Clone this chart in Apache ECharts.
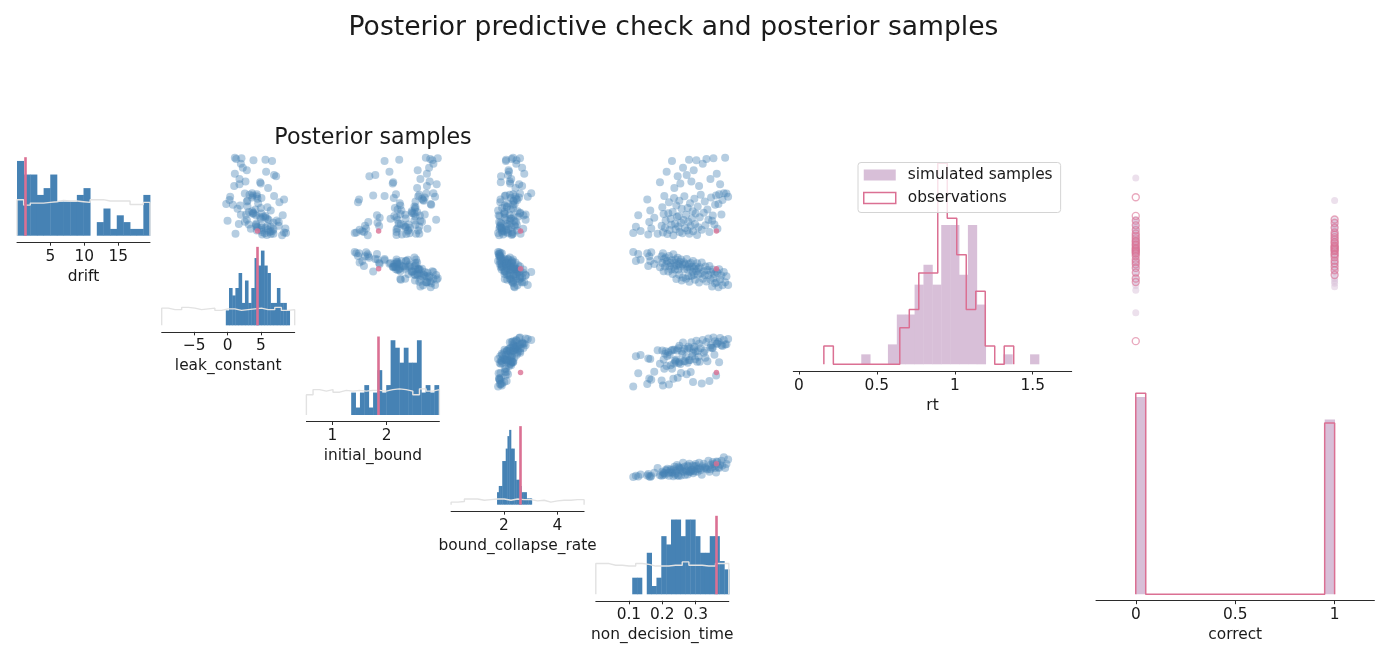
<!DOCTYPE html>
<html><head><meta charset="utf-8">
<script src="https://cdn.jsdelivr.net/npm/echarts@6/dist/echarts.min.js"></script>
<style>html,body{margin:0;padding:0;background:#fff}#c{width:1381px;height:651px}</style>
</head><body><div id="c"></div>
<script>
// ================= DATA =================
const paramNames = ['drift','leak_constant','initial_bound','bound_collapse_rate','non_decision_time'];
const trueValues = [1.3, 4.5, 1.85, 2.62, 0.362];
const axisLimits = [[0.1,19.65],[-9.9,10.1],[0.52,2.97],[0.02,5.0],[0.001,0.399]];
const tickValues = [[5,10,15],[-5,0,5],[1,2],[2,4],[0.1,0.2,0.3]];

// posterior histograms (counts per bin) : first bin edge, bin width
const postBinStart = [0.1,-0.26,1.345,1.74,0.110];
const postBinWidth = [0.9775,0.48,0.0807,0.065,0.0145];
const driftCounts = [11,9,9,6,7,9,5,5,5,6,7,0,2,4,1,3,2,1,1,6];
const leakCounts  = [2,5,4,5,7,3,6,3,5,9,8,10,8,7,3,3,5,3,3,2];
const boundCounts = [3,1,3,4,1,3,6,3,4,10,9,7,9,7,7,10,3,4,3,4];
const collapseCounts = [2,3,3,7,7,9,11,12,9,9,7,4,4,3,2,2,2,1,1,1];
const ndtCounts   = [2,2,0,5,1,2,7,6,9,9,7,9,9,7,5,5,7,7,4,3];

// prior outline levels (same units as posterior counts), 20 bins across axis range
const driftPrior = [5.3,4.5,4.8,4.8,4.9,5.0,5.2,5.1,5.1,5.0,4.9,5.3,5.3,5.1,5.1,5.1,5.1,4.6,4.6,4.9];
const leakPrior  = [2.3,2.1,2.1,2.4,2.3,2.1,2.2,2.3,2.0,2.2,2.2,2.0,2.1,2.2,2.3,2.1,2.1,2.4,2.0,2.1];
const boundPrior = [2.7,3.4,3.2,3.4,3.05,3.3,3.2,3.3,3.2,3.3,3.3,3.2,3.4,3.5,3.4,3.2,2.7,3.5,3.2,3.4];
const collapsePrior = [0.4,0.5,0.9,0.9,0.7,0.8,0.9,0.9,0.7,0.9,0.8,0.8,0.6,0.7,0.4,0.6,0.7,0.7,0.8,0.8];
const ndtPrior   = [3.7,3.7,3.5,3.5,3.4,3.4,3.7,3.6,3.4,3.4,3.4,3.5,3.5,3.9,3.5,3.5,3.4,3.4,3.7,3.7];

// posterior samples (one entry per sample)
const drift = [0.8,2.3,5.2,1.3,9.1,0.4,3.5,6.4,1.9,4.6, 0.6,13.4,2.6,7.2,0.9,5.5,10.0,2.1,3.9,16.0,
 0.5,5.7,8.4,1.5,4.3,2.8,18.7,6.0,0.2,9.5, 12.0,3.1,1.7,7.6,4.8,14.9,2.4,5.0,8.8,1.05,
 13.1,3.3,6.8,0.7,17.0,4.0,9.9,2.0,5.3,15.2, 1.4,7.0,3.6,19.0,0.6,8.2,2.5,13.6,4.4,6.2,
 1.2,16.4,9.3,3.0,5.6,18.9,0.3,7.4,2.2,12.5, 4.7,10.3,1.6,18.0,5.8,8.6,2.7,19.2,6.6,4.1,
 1.0,14.2,9.6,3.8,5.1,19.4,2.9,7.8,10.1,15.5, 1.8,8.0,10.4,12.9,5.4,9.0,10.7,19.5,10.6,9.8];
const leakConstant = [8.8,6.5,8.3,6.8,8.5,5.2,7.7,6.5,8.7,5.7, 6.9,4.9,7.7,6.0,8.5,3.9,7.0,5.1,7.4,5.8,
 6.5,3.8,7.8,5.1,6.0,4.3,6.7,3.2,8.2,5.1, 6.1,4.3,6.9,1.9,5.4,7.3,4.3,5.7,3.0,6.3,
 5.0,6.9,1.5,5.6,2.3,6.2,4.4,5.7,2.0,7.0, 4.4,5.0,2.6,5.7,1.2,4.6,6.0,2.7,5.0,3.7,
 6.5,2.9,4.5,1.7,5.1,3.9,5.9,3.0,4.5,1.0, 4.9,3.3,6.1,2.0,3.9,2.9,5.1,1.3,4.2,2.9,
 5.2,1.8,3.7,0.0,4.3,2.1,3.2,0.8,3.8,1.1, 3.5,-0.2,4.4,1.8,2.8,0.3,3.7,1.1,2.6,0.4];
const initialBound = [1.41,2.35,1.82,2.39,1.49,2.28,1.66,2.27,1.62,1.87, 2.54,2.12,1.60,2.53,1.44,2.25,1.96,2.43,2.51,2.05,
 2.36,2.48,1.47,2.40,2.07,2.53,1.96,2.56,1.65,2.13, 2.56,2.22,2.18,2.25,2.53,1.68,2.60,2.14,2.68,2.18,
 2.11,1.83,2.52,2.42,2.78,2.20,2.58,2.20,2.34,1.79, 2.58,2.15,2.65,2.23,2.60,2.24,1.86,2.79,2.35,2.46,
 1.55,2.57,2.65,2.26,2.51,2.84,2.18,2.51,2.34,2.74, 2.18,2.60,1.50,2.86,2.46,2.53,2.31,2.80,2.20,2.91,
 1.58,2.62,2.70,2.62,2.61,2.94,2.40,2.82,1.75,2.74, 2.75,2.81,2.17,2.92,2.70,2.67,2.86,2.72,2.73,2.89];
const boundCollapseRate = [1.78,1.86,1.80,1.94,1.87,1.97,1.82,1.78,1.83,2.04, 2.34,1.88,1.85,2.11,1.92,2.03,2.03,1.92,2.22,2.19,
 2.30,2.01,1.86,2.08,2.27,2.20,2.07,2.02,1.82,2.26, 2.43,1.91,2.15,2.03,2.53,1.89,2.42,1.84,2.36,2.31,
 2.23,1.87,2.34,2.15,2.68,2.09,2.43,1.90,2.22,2.15, 2.50,1.93,2.44,2.08,2.62,2.14,2.10,2.22,2.25,2.51,
 2.01,2.17,2.46,2.12,2.60,2.47,2.29,2.11,2.28,2.68, 2.35,2.22,1.92,2.46,2.61,2.35,2.39,2.29,2.25,2.81,
 2.10,2.27,2.56,2.38,2.73,2.60,2.48,2.34,2.06,2.76, 2.72,2.40,2.34,2.57,2.81,2.50,3.02,2.34,2.60,2.89];
const nonDecisionTime = [0.113,0.121,0.128,0.135,0.155,0.158,0.161,0.164,0.167,0.176,
 0.186,0.193,0.198,0.200,0.202,0.204,0.206,0.208,0.210,0.213, 0.215,0.218,0.220,0.222,0.225,0.227,0.229,0.231,0.233,0.235,
 0.236,0.238,0.240,0.242,0.244,0.246,0.248,0.249,0.251,0.252, 0.254,0.256,0.258,0.260,0.262,0.264,0.266,0.268,0.271,0.273,
 0.275,0.276,0.278,0.280,0.281,0.283,0.285,0.287,0.289,0.291, 0.292,0.294,0.296,0.298,0.300,0.302,0.304,0.306,0.308,0.310,
 0.312,0.315,0.318,0.321,0.324,0.327,0.329,0.332,0.335,0.338, 0.341,0.344,0.346,0.349,0.351,0.353,0.356,0.358,0.361,0.363,
 0.365,0.368,0.370,0.373,0.377,0.380,0.384,0.388,0.392,0.397];

// posterior predictive: rt histograms
const rtObsStart = 0.160, rtObsWidth = 0.0609;
const rtObsCounts = [1,0,0,0,0,0,0,0,2,3,5,5,11,8,6,3,4,1,0,1];
const rtSimStart = 0.400, rtSimWidth = 0.057;
const rtSimCounts = [1,0,0,2,5,5,8,10,8,14,14,9,14,6,0,0,1,0,0,1];
// correct histograms
const corrStart = 0, corrWidth = 0.05;
const corrObsCounts = [27,0,0,0,0,0,0,0,0,0,0,0,0,0,0,0,0,0,0,23];
const corrSimCounts = [53,0,0,0,0,0,0,0,0,0,0,0,0,0,0,0,0,0,0,47];
// scatter of rt by correct
const obsRt = [0.16,0.66,0.69,0.72,0.74,0.76,0.78,0.79,0.81,0.82,0.83,0.84,0.85,0.87,0.88,0.89,0.90,0.90,0.91,0.92,
 0.92,0.93,0.93,0.94,0.94,0.95,0.95,0.96,0.97,0.97,0.98,0.99,1.00,1.00,1.01,1.02,1.03,1.04,1.05,1.06,
 1.07,1.08,1.10,1.12,1.14,1.16,1.18,1.19,1.22,1.378];
const obsCorrect = [0,0,0,1,0,1,0,1,0,1,0,1,0,1,0,1,0,1,0,1, 0,1,0,1,0,1,0,1,0,1,0,1,0,1,0,1,0,1,0,1, 0,1,0,1,0,1,0,1,0,0];
const simRt = [0.40,0.59,0.62,0.63,0.65,0.66,0.67,0.68,0.69,0.70,0.72,0.73,0.74,0.75,0.76,0.77,0.77,0.78,0.79,0.79,0.795,
 0.80,0.81,0.81,0.82,0.83,0.83,0.84,0.84,0.85,0.85,0.86,0.87,0.88,0.88,0.89,0.90,0.90,0.91,
 0.92,0.92,0.93,0.93,0.94,0.94,0.94,0.95,0.95,0.96,0.96,0.96,0.965,0.965,
 0.98,0.98,0.99,0.99,0.99,1.00,1.00,1.00,1.01,1.01,1.02,1.02,1.02,1.025,
 1.03,1.04,1.04,1.05,1.06,1.06,1.07,1.08,1.08,
 1.09,1.09,1.10,1.10,1.10,1.11,1.11,1.12,1.12,1.12,1.13,1.13,1.14,1.14,
 1.15,1.16,1.17,1.18,1.19,1.19,1.35,1.54];
const simCorrect = [0,0,1,0,1,0,1,0,1,0,1,0,1,0,1,0,1,0,1,0,1,
 0,1,0,1,0,1,0,1,0,1,0,1,0,1,0,1,0,1,
 0,1,0,1,0,1,0,1,0,1,0,1,0,1,
 0,1,0,1,0,1,0,1,0,1,0,1,0,1,
 0,1,0,1,0,1,0,1,0,
 1,0,1,0,1,0,1,0,1,0,1,0,1,0,
 1,0,1,0,1,0,1,0];

// ================= CHART =================
const BLUE='#4682b4', PINK='#db7093', THISTLE='#d8bfd8', PRIOR='#e2e2e2';
const FONT='DejaVu Sans', INK='#1a1a1a', SPINE='#2b2b2b', FS=15.4;
const postCounts=[driftCounts,leakCounts,boundCounts,collapseCounts,ndtCounts];
const priorLevels=[driftPrior,leakPrior,boundPrior,collapsePrior,ndtPrior];
const samples=[drift,leakConstant,initialBound,boundCollapseRate,nonDecisionTime];
const fmt = v => (v<0?'\u2212':'') + String(Math.abs(v));

const grids=[], xAxes=[], yAxes=[], series=[];
function visibleX(gi,min,max,ticks,name,offset){
  return {gridIndex:gi,type:'value',min,max,offset,
    axisLine:{show:true,onZero:false,lineStyle:{color:SPINE,width:1}},
    axisTick:{show:true,length:3.5,lineStyle:{color:SPINE,width:1},customValues:ticks},
    axisLabel:{show:true,customValues:ticks,formatter:fmt,margin:7,fontSize:FS,color:INK,fontFamily:FONT},
    splitLine:{show:false},name,nameLocation:'middle',nameGap:27,
    nameTextStyle:{fontSize:FS,color:INK,fontFamily:FONT}};
}
function hidden(gi,min,max){return {gridIndex:gi,type:'value',min,max,show:false,splitLine:{show:false}};}
function histSeries(gi,start,width,vals,color,name){
  return {type:'custom',name,xAxisIndex:gi,yAxisIndex:gi,silent:true,z:2,itemStyle:{color},
    data:vals.map((v,k)=>[start+k*width,start+(k+1)*width,v]),
    encode:{x:[0,1],y:2},
    renderItem:(p,api)=>{
      const a=api.coord([api.value(0),api.value(2)]), b=api.coord([api.value(1),0]);
      return {type:'rect',shape:{x:a[0],y:a[1],width:b[0]-a[0]+0.4,height:b[1]-a[1]},style:{fill:color}};
    }};
}
function stepPoints(start,width,vals){
  const pts=[[start,0]];
  vals.forEach((v,k)=>{pts.push([start+k*width,v]);pts.push([start+(k+1)*width,v]);});
  pts.push([start+vals.length*width,0]);
  return pts;
}
function addGrid(left,top,width,height){grids.push({left,top,width,height});return grids.length-1;}

const colLeft=i=>17+144.7*i, rowBottom=i=>235.7+89.65*i, CW=133, RH=78.5;

// diagonal histograms
for(let i=0;i<5;i++){
  const gi=addGrid(colLeft(i),rowBottom(i)-RH,CW,RH);
  const [mn,mx]=axisLimits[i];
  const ymax=1.05*Math.max(...postCounts[i],...priorLevels[i]);
  xAxes.push(visibleX(gi,mn,mx,tickValues[i],paramNames[i],6.5));
  yAxes.push(hidden(gi,0,ymax));
  series.push(histSeries(gi,postBinStart[i],postBinWidth[i],postCounts[i],BLUE));
  const pw=(mx-mn)/priorLevels[i].length;
  series.push({type:'line',xAxisIndex:gi,yAxisIndex:gi,data:stepPoints(mn,pw,priorLevels[i]),
    symbol:'none',silent:true,z:3,lineStyle:{color:PRIOR,width:1.4},
    markLine:{symbol:'none',silent:true,animation:false,label:{show:false},
      lineStyle:{color:PINK,width:2.6,type:'solid'},data:[{xAxis:trueValues[i]}]}});
}
// upper triangle scatters
for(let r=0;r<5;r++)for(let c=r+1;c<5;c++){
  const gi=addGrid(colLeft(c),rowBottom(r)-RH,CW,RH);
  xAxes.push(hidden(gi,...axisLimits[c]));
  yAxes.push(hidden(gi,...axisLimits[r]));
  series.push({type:'scatter',xAxisIndex:gi,yAxisIndex:gi,silent:true,z:2,
    data:samples[c].map((v,k)=>[v,samples[r][k]]),symbolSize:8,
    itemStyle:{color:'rgba(70,130,180,0.5)'}});
  series.push({type:'scatter',xAxisIndex:gi,yAxisIndex:gi,silent:true,z:4,
    data:[[trueValues[c],trueValues[r]]],symbolSize:5.5,itemStyle:{color:PINK}});
}
// predictive check: rt histogram
const dens=(arr,w)=>{const n=arr.reduce((a,b)=>a+b,0);return arr.map(c=>c/(n*w));};
const rtSimD=dens(rtSimCounts,rtSimWidth), rtObsD=dens(rtObsCounts,rtObsWidth);
const RTL=[-0.036,1.75], CL=[-0.2,1.2], RW=278.4, RHH=211;
let gi=addGrid(793.3,153.3,RW,RHH);
xAxes.push(visibleX(gi,RTL[0],RTL[1],[0,0.5,1,1.5],'rt',6.7));
yAxes.push(hidden(gi,0,1.05*Math.max(...rtSimD,...rtObsD)));
series.push(histSeries(gi,rtSimStart,rtSimWidth,rtSimD,THISTLE,'simulated samples'));
series.push({type:'line',name:'observations',xAxisIndex:gi,yAxisIndex:gi,data:stepPoints(rtObsStart,rtObsWidth,rtObsD),
  symbol:'none',silent:true,z:3,itemStyle:{color:PINK},lineStyle:{color:PINK,width:1.5}});
// rt vs correct scatter
gi=addGrid(1096,153.3,RW,RHH);
xAxes.push(hidden(gi,CL[0],CL[1])); yAxes.push(hidden(gi,RTL[0],RTL[1]));
series.push({type:'scatter',xAxisIndex:gi,yAxisIndex:gi,silent:true,z:2,
  data:simRt.map((v,k)=>[simCorrect[k],v]),symbolSize:7,itemStyle:{color:'rgba(216,191,216,0.6)'}});
series.push({type:'scatter',xAxisIndex:gi,yAxisIndex:gi,silent:true,z:3,
  data:obsRt.map((v,k)=>[obsCorrect[k],v]),symbolSize:7,
  itemStyle:{color:'rgba(255,255,255,0)',borderColor:'rgba(219,112,147,0.75)',borderWidth:1.4}});
// correct histogram
const cSimD=dens(corrSimCounts,corrWidth), cObsD=dens(corrObsCounts,corrWidth);
gi=addGrid(1096,383.3,RW,RHH);
xAxes.push(visibleX(gi,CL[0],CL[1],[0,0.5,1],'correct',6.4));
yAxes.push(hidden(gi,0,1.05*Math.max(...cSimD,...cObsD)));
series.push(histSeries(gi,corrStart,corrWidth,cSimD,THISTLE,'simulated samples'));
series.push({type:'line',name:'observations',xAxisIndex:gi,yAxisIndex:gi,data:stepPoints(corrStart,corrWidth,cObsD),
  symbol:'none',silent:true,z:3,itemStyle:{color:PINK},lineStyle:{color:PINK,width:1.5}});

const chart=echarts.init(document.getElementById('c'),null,{renderer:'canvas',width:1381,height:651});
chart.setOption({
  animation:false,backgroundColor:'#fff',
  grid:grids,xAxis:xAxes,yAxis:yAxes,series,
  legend:{left:858,top:162.5,orient:'vertical',selectedMode:false,
    backgroundColor:'rgba(255,255,255,0.8)',borderColor:'#d4d4d4',borderWidth:1,borderRadius:3,
    padding:[4,8,6,5],itemWidth:32,itemHeight:11,itemGap:6,z:10,
    textStyle:{fontSize:FS,lineHeight:17,color:INK,fontFamily:FONT,padding:[0,0,0,7]},
    data:[{name:'simulated samples',icon:'rect',itemStyle:{color:THISTLE,borderWidth:0}},
          {name:'observations',icon:'rect',itemStyle:{color:'#fff',borderColor:PINK,borderWidth:1.5},lineStyle:{opacity:0}}]},
  graphic:[
    {type:'rect',z:1,silent:true,shape:{x:colLeft(4),y:rowBottom(4)-RH,width:CW,height:RH},style:{fill:'#fff'}},
    {type:'text',x:673.5,y:28,style:{text:'Posterior predictive check and posterior samples',fontSize:26.6,fontFamily:FONT,fill:INK,align:'center',verticalAlign:'middle'}},
    {type:'text',x:373,y:138,style:{text:'Posterior samples',fontSize:22.2,fontFamily:FONT,fill:INK,align:'center',verticalAlign:'middle'}}
  ]
});
</script></body></html>
